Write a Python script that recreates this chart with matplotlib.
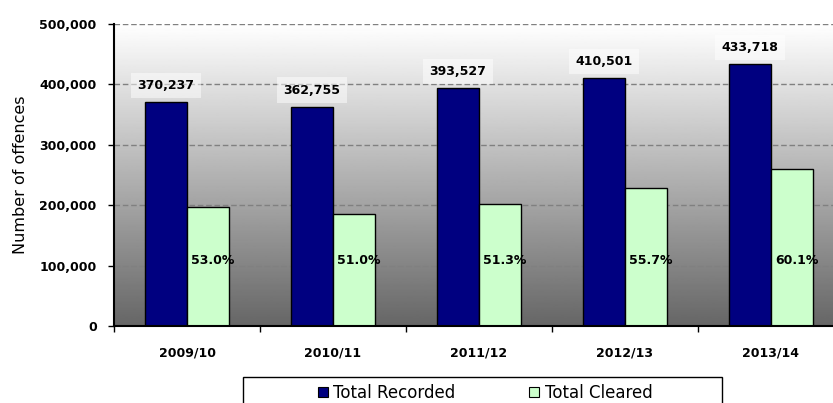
import numpy as np
import matplotlib
matplotlib.use("Agg")
from matplotlib import pyplot as plt
from matplotlib.lines import Line2D
from matplotlib.patches import Rectangle

plt.rcParams['font.family'] = ['DejaVu Sans']

# data
years = ["2009/10", "2010/11", "2011/12", "2012/13", "2013/14"]
recorded = [370237, 362755, 393527, 410501, 433718]
cleared = [196226, 185005, 201879, 228649, 260665]
cleared_pct = ["53.0%", "51.0%", "51.3%", "55.7%", "60.1%"]

navy = "#000080"
green = "#CCFFCC"

fig = plt.figure(figsize=(8.33, 4.03), dpi=100)
ax = fig.add_axes([114 / 833, 77 / 403, 730 / 833, 302 / 403])

# gradient background, white at top to grey at bottom
grad = np.linspace(1.0, 0.4, 256).reshape(-1, 1)
ax.imshow(grad, cmap="gray", vmin=0, vmax=1, extent=[0, 1, 0, 1],
          transform=ax.transAxes, aspect="auto", zorder=0)

x = np.arange(len(years))
w = 0.29
ax.bar(x - w / 2, recorded, w, color=navy, edgecolor="black", linewidth=1, zorder=2)
ax.bar(x + w / 2, cleared, w, color=green, edgecolor="black", linewidth=1, zorder=2)

for i in range(len(years)):
    ax.annotate(f"{recorded[i]:,}", (x[i] - w / 2, recorded[i]), xytext=(0, 12),
                textcoords="offset points", ha="center", va="center",
                fontsize=9, fontweight="bold", zorder=3,
                bbox=dict(boxstyle="square,pad=0.5", fc="white", ec="none", alpha=0.5))
    ax.annotate(cleared_pct[i], (x[i] + w / 2, 108000), xytext=(3.5, 0),
                textcoords="offset points", ha="center", va="center",
                fontsize=9, fontweight="bold", zorder=3)

ax.set_xlim(-0.5, 4.5)
ax.set_ylim(0, 500000)
ax.set_yticks(np.arange(0, 500001, 100000))
ax.set_yticklabels([f"{v:,}" for v in range(0, 500001, 100000)],
                   fontsize=9, fontweight="bold")
ax.set_xticks(x)
ax.set_xticklabels(years, fontsize=9, fontweight="bold")
ax.set_xticks(np.arange(-0.5, 5, 1), minor=True)
ax.tick_params(axis="x", which="major", length=0, pad=15)
ax.tick_params(axis="x", which="minor", length=4, width=1, direction="out")
ax.tick_params(axis="y", length=4.5, width=1, pad=8)

ax.yaxis.grid(True, linestyle=(0, (4, 2)), color="#808080", linewidth=1)
ax.set_axisbelow(True)
for gl in ax.get_ygridlines():
    gl.set_zorder(1)

ax.spines["top"].set_visible(False)
ax.spines["right"].set_visible(False)
ax.spines["left"].set_linewidth(1.5)
ax.spines["bottom"].set_linewidth(1.5)

ax.set_ylabel("Number of offences", fontsize=11.5)
ax.yaxis.set_label_coords((28 - 114) / 730, 0.5)

handles = [
    Line2D([], [], marker="s", linestyle="none", markersize=7,
           markerfacecolor=navy, markeredgecolor="black", markeredgewidth=0.8),
    Line2D([], [], marker="s", linestyle="none", markersize=7,
           markerfacecolor=green, markeredgecolor="black", markeredgewidth=0.8),
]
leg = fig.legend(handles, ["Total Recorded", "Total Cleared"], ncol=2,
                 loc="center", bbox_to_anchor=(485 / 833, 1 - 393 / 403),
                 fontsize=12, frameon=False, handlelength=0.6,
                 handletextpad=0.35, columnspacing=4.4, borderpad=0)

# legend box, cut off by the bottom edge as in the original
fig.patches.append(Rectangle((243 / 833, -0.05), 479 / 833, 0.05 + (403 - 377) / 403,
                             transform=fig.transFigure, fill=False,
                             edgecolor="black", linewidth=1))

fig.savefig("out.png", dpi=100)
